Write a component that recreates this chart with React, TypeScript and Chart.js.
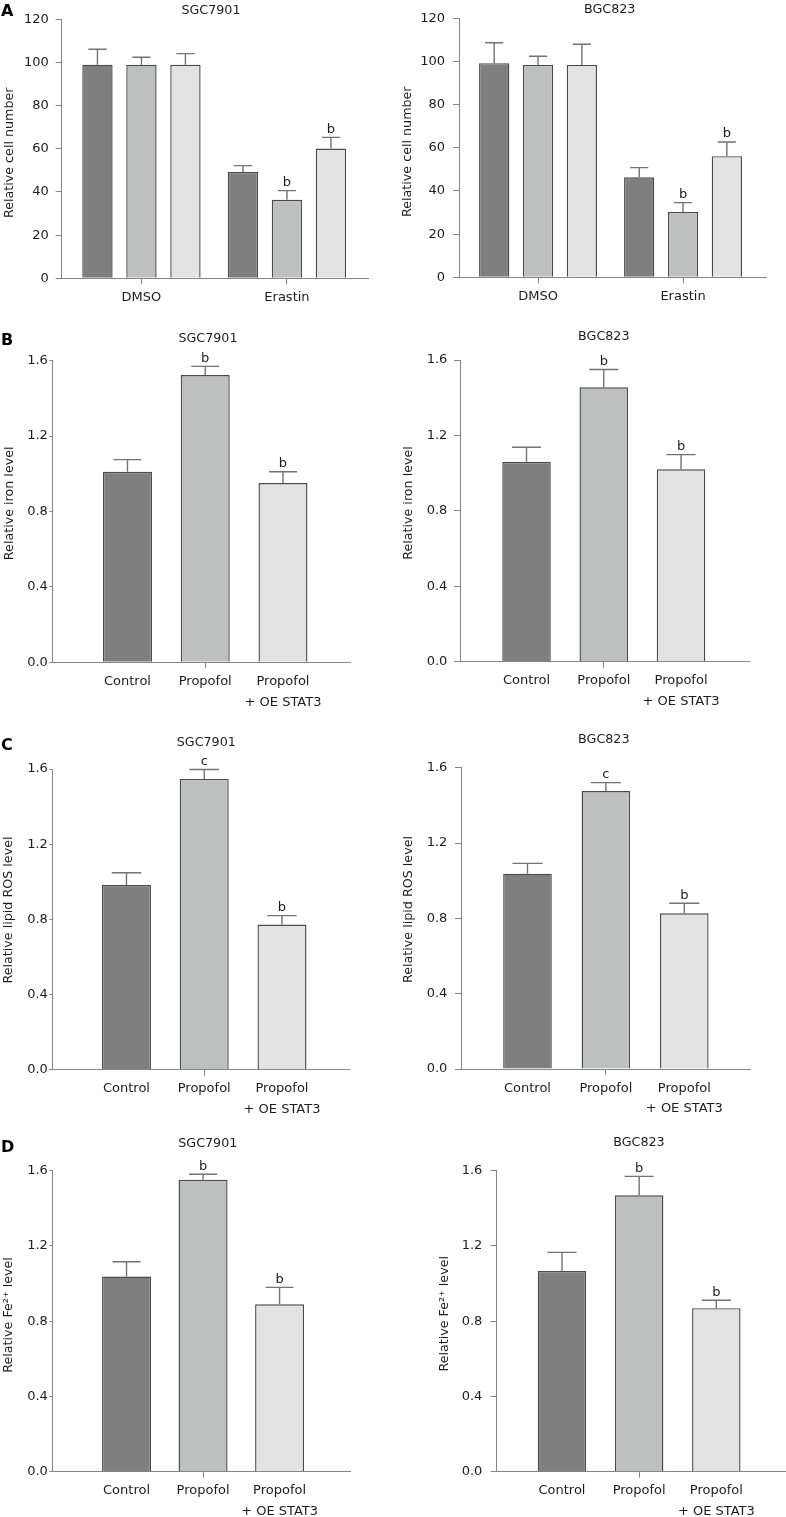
import React, { useEffect, useRef } from "react";
import { Chart, registerables } from "chart.js";

Chart.register(...registerables);

const FONT = '"DejaVu Sans", Verdana, sans-serif';
Chart.defaults.font.family = FONT;

const TEXT = "#1f1b1c";
const AXIS = "#858585";
const BAR_BORDER = "#4a4a4a";
const ERR = "#737373";
const FILL_DARK = "#7f7f7f";
const FILL_MID = "#bebfbf";
const FILL_LIGHT = "#e3e3e3";

// ---------- Panel A: relative cell number ----------
const cellGroups = ["DMSO", "Erastin"];
const cellTicks = [0, 20, 40, 60, 80, 100, 120];

const sgcCellDark = [99, 49.3];
const sgcCellDarkSd = [7.1, 2.9];
const sgcCellMid = [99, 36.4];
const sgcCellMidSd = [3.4, 4.2];
const sgcCellLight = [99, 60.1];
const sgcCellLightSd = [5.1, 5.2];

const bgcCellDark = [99.2, 46.3];
const bgcCellDarkSd = [9.5, 4.5];
const bgcCellMid = [98.4, 30.3];
const bgcCellMidSd = [4.0, 4.3];
const bgcCellLight = [98.4, 56.1];
const bgcCellLightSd = [9.6, 6.6];

const cellSigDark = ["", ""];
const cellSigMid = ["", "b"];
const cellSigLight = ["", "b"];

// ---------- Panels B–D ----------
const treatments: (string | string[])[] = ["Control", "Propofol", ["Propofol", "+ OE STAT3"]];
const levelTicks = [0, 0.4, 0.8, 1.2, 1.6];

const sgcIron = [1.011, 1.524, 0.951];
const sgcIronSd = [0.064, 0.046, 0.06];
const sgcIronSig = ["", "b", "b"];
const bgcIron = [1.06, 1.455, 1.02];
const bgcIronSd = [0.077, 0.095, 0.078];
const bgcIronSig = ["", "b", "b"];

const sgcRos = [0.983, 1.547, 0.772];
const sgcRosSd = [0.065, 0.05, 0.048];
const sgcRosSig = ["", "c", "b"];
const bgcRos = [1.037, 1.476, 0.827];
const bgcRosSd = [0.055, 0.045, 0.053];
const bgcRosSig = ["", "c", "b"];

const sgcFe = [1.037, 1.552, 0.89];
const sgcFeSd = [0.079, 0.029, 0.09];
const sgcFeSig = ["", "b", "b"];
const bgcFe = [1.067, 1.469, 0.869];
const bgcFeSd = [0.099, 0.101, 0.042];
const bgcFeSig = ["", "b", "b"];

type Series = { values: number[]; sd: number[]; sig: string[]; color: string | string[] };

type PanelSpec = {
  key: string;
  cx: number; cy: number; cw: number; ch: number;
  axisX: number; yTop: number; yZero: number; xRight: number;
  xMin: number; xMax: number;
  yTickValues: number[]; yDecimals: number;
  yTickLen: number; yTickPad: number;
  categoryPct: number; barPct: number; capRatio: number;
  labels: (string | string[])[];
  series: Series[];
  tickAll: boolean;
  yTitle: string; yTitleX: number; yTitleY: number;
  title: string; titleX: number; titleY: number;
  letter?: string; letterY?: number;
};

const threeColors = [FILL_DARK, FILL_MID, FILL_LIGHT];

const panels: PanelSpec[] = [
  {
    key: "A1", cx: 0, cy: 0, cw: 390, ch: 320,
    axisX: 61.7, yTop: 19.3, yZero: 278.3, xRight: 368,
    xMin: -0.548, xMax: 1.557,
    yTickValues: cellTicks, yDecimals: 0, yTickLen: 6, yTickPad: 7,
    categoryPct: 0.907, barPct: 0.69, capRatio: 0.6,
    labels: cellGroups,
    series: [
      { values: sgcCellDark, sd: sgcCellDarkSd, sig: cellSigDark, color: FILL_DARK },
      { values: sgcCellMid, sd: sgcCellMidSd, sig: cellSigMid, color: FILL_MID },
      { values: sgcCellLight, sd: sgcCellLightSd, sig: cellSigLight, color: FILL_LIGHT },
    ],
    tickAll: true,
    yTitle: "Relative cell number", yTitleX: 9.5, yTitleY: 152.8,
    title: "SGC7901", titleX: 211, titleY: 10.8,
    letter: "A", letterY: 15.5,
  },
  {
    key: "A2", cx: 390, cy: 0, cw: 396, ch: 320,
    axisX: 459, yTop: 18.3, yZero: 277.3, xRight: 766.7,
    xMin: -0.545, xMax: 1.577,
    yTickValues: cellTicks, yDecimals: 0, yTickLen: 6, yTickPad: 8,
    categoryPct: 0.907, barPct: 0.69, capRatio: 0.6,
    labels: cellGroups,
    series: [
      { values: bgcCellDark, sd: bgcCellDarkSd, sig: cellSigDark, color: FILL_DARK },
      { values: bgcCellMid, sd: bgcCellMidSd, sig: cellSigMid, color: FILL_MID },
      { values: bgcCellLight, sd: bgcCellLightSd, sig: cellSigLight, color: FILL_LIGHT },
    ],
    tickAll: true,
    yTitle: "Relative cell number", yTitleX: 407.5, yTitleY: 151.7,
    title: "BGC823", titleX: 609.7, titleY: 9.5,
  },
  {
    key: "B1", cx: 0, cy: 320, cw: 390, ch: 395,
    axisX: 52.3, yTop: 360.7, yZero: 662.3, xRight: 350,
    xMin: -0.967, xMax: 2.862,
    yTickValues: levelTicks, yDecimals: 1, yTickLen: 3, yTickPad: 1.5,
    categoryPct: 1, barPct: 0.63, capRatio: 0.57,
    labels: treatments,
    series: [{ values: sgcIron, sd: sgcIronSd, sig: sgcIronSig, color: threeColors }],
    tickAll: false,
    yTitle: "Relative iron level", yTitleX: 9.2, yTitleY: 503.3,
    title: "SGC7901", titleX: 208, titleY: 338.5,
    letter: "B", letterY: 345,
  },
  {
    key: "B2", cx: 390, cy: 320, cw: 396, ch: 395,
    axisX: 460, yTop: 360, yZero: 661.7, xRight: 749,
    xMin: -0.861, xMax: 2.88,
    yTickValues: levelTicks, yDecimals: 1, yTickLen: 6, yTickPad: 6.7,
    categoryPct: 1, barPct: 0.628, capRatio: 0.6,
    labels: treatments,
    series: [{ values: bgcIron, sd: bgcIronSd, sig: bgcIronSig, color: threeColors }],
    tickAll: false,
    yTitle: "Relative iron level", yTitleX: 408.3, yTitleY: 503,
    title: "BGC823", titleX: 603.8, titleY: 337,
  },
  {
    key: "C1", cx: 0, cy: 715, cw: 390, ch: 405,
    axisX: 52.3, yTop: 769, yZero: 1069.7, xRight: 349,
    xMin: -0.954, xMax: 2.862,
    yTickValues: levelTicks, yDecimals: 1, yTickLen: 3, yTickPad: 1.5,
    categoryPct: 1, barPct: 0.63, capRatio: 0.6,
    labels: treatments,
    series: [{ values: sgcRos, sd: sgcRosSd, sig: sgcRosSig, color: threeColors }],
    tickAll: false,
    yTitle: "Relative lipid ROS level", yTitleX: 8.7, yTitleY: 910,
    title: "SGC7901", titleX: 206.3, titleY: 743,
    letter: "C", letterY: 750,
  },
  {
    key: "C2", cx: 390, cy: 715, cw: 396, ch: 405,
    axisX: 461, yTop: 767.7, yZero: 1069, xRight: 750,
    xMin: -0.848, xMax: 2.838,
    yTickValues: levelTicks, yDecimals: 1, yTickLen: 6, yTickPad: 7.7,
    categoryPct: 1, barPct: 0.62, capRatio: 0.62,
    labels: treatments,
    series: [{ values: bgcRos, sd: bgcRosSd, sig: bgcRosSig, color: threeColors }],
    tickAll: false,
    yTitle: "Relative lipid ROS level", yTitleX: 408.8, yTitleY: 909.5,
    title: "BGC823", titleX: 603.8, titleY: 740,
  },
  {
    key: "D1", cx: 0, cy: 1115, cw: 390, ch: 402,
    axisX: 52.3, yTop: 1170.7, yZero: 1471.7, xRight: 350,
    xMin: -0.97, xMax: 2.92,
    yTickValues: levelTicks, yDecimals: 1, yTickLen: 3, yTickPad: 1.5,
    categoryPct: 1, barPct: 0.64, capRatio: 0.57,
    labels: treatments,
    series: [{ values: sgcFe, sd: sgcFeSd, sig: sgcFeSig, color: threeColors }],
    tickAll: false,
    yTitle: "Relative Fe²⁺ level", yTitleX: 8.8, yTitleY: 1315,
    title: "SGC7901", titleX: 207.8, titleY: 1144,
    letter: "D", letterY: 1151.7,
  },
  {
    key: "D2", cx: 390, cy: 1115, cw: 396, ch: 402,
    axisX: 496.7, yTop: 1170.7, yZero: 1471.7, xRight: 785,
    xMin: -0.846, xMax: 2.89,
    yTickValues: levelTicks, yDecimals: 1, yTickLen: 6, yTickPad: 8.4,
    categoryPct: 1, barPct: 0.628, capRatio: 0.6,
    labels: treatments,
    series: [{ values: bgcFe, sd: bgcFeSd, sig: bgcFeSig, color: threeColors }],
    tickAll: false,
    yTitle: "Relative Fe²⁺ level", yTitleX: 444.2, yTitleY: 1313.8,
    title: "BGC823", titleX: 639, titleY: 1142.8,
  },
];

function makePlugin(p: PanelSpec) {
  return {
    id: "panelDeco_" + p.key,
    afterDatasetsDraw(chart: any) {
      const ctx = chart.ctx as CanvasRenderingContext2D;
      const y = chart.scales.y;
      ctx.save();
      p.series.forEach((s, di) => {
        const meta = chart.getDatasetMeta(di);
        meta.data.forEach((bar: any, i: number) => {
          const v = s.values[i];
          const top = y.getPixelForValue(v + s.sd[i]);
          const base = y.getPixelForValue(v);
          const half = (bar.width * p.capRatio) / 2;
          ctx.strokeStyle = ERR;
          ctx.lineWidth = 1.4;
          ctx.beginPath();
          ctx.moveTo(bar.x, base);
          ctx.lineTo(bar.x, top);
          ctx.moveTo(bar.x - half, top);
          ctx.lineTo(bar.x + half, top);
          ctx.stroke();
          if (s.sig[i]) {
            ctx.fillStyle = TEXT;
            ctx.font = `13px ${FONT}`;
            ctx.textAlign = "center";
            ctx.textBaseline = "alphabetic";
            ctx.fillText(s.sig[i], bar.x, top - 4.7);
          }
        });
      });
      ctx.restore();
    },
    afterDraw(chart: any) {
      const ctx = chart.ctx as CanvasRenderingContext2D;
      ctx.save();
      ctx.fillStyle = TEXT;
      // chart title
      ctx.font = `12.7px ${FONT}`;
      ctx.textAlign = "center";
      ctx.textBaseline = "middle";
      ctx.fillText(p.title, p.titleX - p.cx, p.titleY - p.cy);
      // y-axis title
      ctx.save();
      ctx.translate(p.yTitleX - p.cx, p.yTitleY - p.cy);
      ctx.rotate(-Math.PI / 2);
      ctx.font = `12.7px ${FONT}`;
      ctx.textAlign = "center";
      ctx.textBaseline = "middle";
      ctx.fillText(p.yTitle, 0, 0);
      ctx.restore();
      // panel letter
      if (p.letter) {
        ctx.fillStyle = "#000000";
        ctx.font = `bold 16px ${FONT}`;
        ctx.textAlign = "left";
        ctx.textBaseline = "alphabetic";
        ctx.fillText(p.letter, 1 - p.cx, (p.letterY as number) - p.cy);
      }
      ctx.restore();
    },
  };
}

function makeConfig(p: PanelSpec): any {
  const datasets = p.series.map((s) => ({
    data: s.values.map((v, i) => ({ x: i, y: v })),
    backgroundColor: s.color,
    borderColor: BAR_BORDER,
    borderWidth: 1.4,
    categoryPercentage: p.categoryPct,
    barPercentage: p.barPct,
  }));
  const yMax = p.yTickValues[p.yTickValues.length - 1];
  const yStep = p.yTickValues[1] - p.yTickValues[0];
  return {
    type: "bar",
    data: { datasets },
    options: {
      animation: false,
      responsive: false,
      maintainAspectRatio: false,
      devicePixelRatio: 1,
      layout: {
        padding: { top: p.yTop - p.cy, right: p.cx + p.cw - p.xRight, left: 0, bottom: 0 },
      },
      plugins: {
        legend: { display: false },
        tooltip: { enabled: false },
        title: { display: false },
      },
      scales: {
        x: {
          type: "linear",
          min: p.xMin,
          max: p.xMax,
          offset: false,
          ticks: {
            stepSize: 1,
            includeBounds: false,
            autoSkip: false,
            maxRotation: 0,
            minRotation: 0,
            padding: 2.8,
            color: TEXT,
            font: { family: FONT, size: 13, lineHeight: 1.6 },
            callback: (v: number) => (Number.isInteger(v) && p.labels[v] !== undefined ? p.labels[v] : ""),
          },
          grid: {
            display: true,
            offset: false,
            drawOnChartArea: false,
            drawTicks: true,
            tickLength: 6,
            tickWidth: 1,
            tickColor: (c: any) =>
              p.tickAll || (c.tick && c.tick.value === 1) ? AXIS : "rgba(0,0,0,0)",
          },
          border: { display: true, color: AXIS, width: 1 },
          afterFit: (s: any) => {
            s.height = p.cy + p.ch - p.yZero;
          },
        },
        y: {
          type: "linear",
          min: 0,
          max: yMax,
          ticks: {
            stepSize: yStep,
            padding: p.yTickPad,
            color: TEXT,
            font: { family: FONT, size: 13 },
            callback: (v: number) => Number(v).toFixed(p.yDecimals),
          },
          grid: {
            display: true,
            drawOnChartArea: false,
            drawTicks: true,
            tickLength: p.yTickLen,
            tickWidth: 1,
            tickColor: AXIS,
          },
          border: { display: true, color: AXIS, width: 1 },
          afterFit: (s: any) => {
            s.width = p.axisX - p.cx;
          },
        },
      },
    },
    plugins: [makePlugin(p)],
  };
}

function Panel({ spec }: { spec: PanelSpec }) {
  const ref = useRef<HTMLCanvasElement>(null);
  useEffect(() => {
    if (!ref.current) return;
    const chart = new Chart(ref.current, makeConfig(spec));
    return () => chart.destroy();
  }, [spec]);
  return (
    <canvas
      ref={ref}
      width={spec.cw}
      height={spec.ch}
      style={{ position: "absolute", left: spec.cx, top: spec.cy, width: spec.cw, height: spec.ch }}
    />
  );
}

export default function App() {
  return (
    <div
      style={{
        position: "absolute",
        left: 0,
        top: 0,
        width: 786,
        height: 1517,
        background: "#ffffff",
        overflow: "hidden",
      }}
    >
      {panels.map((p) => (
        <Panel key={p.key} spec={p} />
      ))}
    </div>
  );
}
